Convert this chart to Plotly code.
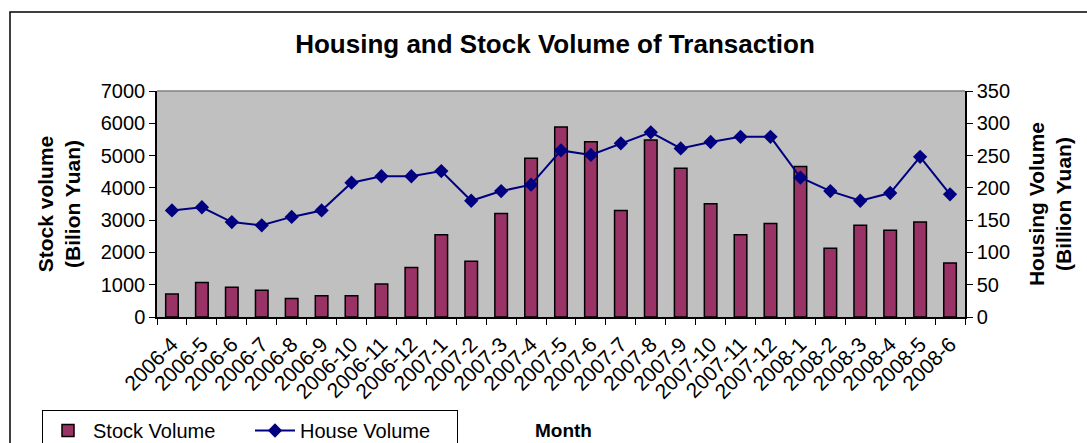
import plotly.graph_objects as go

months = ["2006-4", "2006-5", "2006-6", "2006-7", "2006-8", "2006-9", "2006-10", "2006-11",
          "2006-12", "2007-1", "2007-2", "2007-3", "2007-4", "2007-5", "2007-6", "2007-7",
          "2007-8", "2007-9", "2007-10", "2007-11", "2007-12", "2008-1", "2008-2", "2008-3",
          "2008-4", "2008-5", "2008-6"]
stock_volume = [710, 1070, 920, 825, 570, 660, 660, 1020, 1530, 2545, 1730, 3205, 4920, 5885,
                5430, 3300, 5480, 4610, 3505, 2545, 2895, 4665, 2130, 2845, 2690, 2945, 1675]
house_volume = [165, 170, 147, 142, 155, 165, 208, 218, 218, 226, 180, 195, 205, 258,
                251, 269, 286, 261, 271, 279, 279, 216, 195, 180, 192, 248, 190]
y1_ticks = [0, 1000, 2000, 3000, 4000, 5000, 6000, 7000]
y2_ticks = [0, 50, 100, 150, 200, 250, 300, 350]

FONT = "Arial, Liberation Sans, sans-serif"

fig = go.Figure()
fig.add_trace(go.Bar(
    x=months, y=stock_volume, name="Stock Volume",
    marker=dict(color="#993366", line=dict(color="#000000", width=1.5)),
))
fig.add_trace(go.Scatter(
    x=months, y=house_volume, name="House Volume", yaxis="y2",
    mode="lines+markers",
    line=dict(color="#000080", width=2),
    marker=dict(symbol="diamond", size=11, color="#000080"),
))

fig.update_layout(
    width=1087, height=443,
    margin=dict(l=157, r=122, t=91, b=126),
    paper_bgcolor="white",
    plot_bgcolor="#C0C0C0",
    font=dict(family=FONT, color="black", size=20),
    bargap=0.58,
    showlegend=True,
    title=dict(text="<b>Housing and Stock Volume of Transaction</b>",
               font=dict(family=FONT, size=26, color="black"),
               x=555 / 1087, xanchor="center", xref="container",
               y=1 - 44 / 443, yanchor="middle", yref="container"),
    xaxis=dict(
        type="category", range=[-0.5, len(months) - 0.5], tickangle=-45, tickfont=dict(size=21),
        showgrid=False, showline=True, linecolor="black", linewidth=1.5,
        ticks="outside", ticklen=6, tickcolor="black", tickson="boundaries",
        ticklabelstandoff=5, zeroline=False, automargin=False,
    ),
    yaxis=dict(
        range=[0, 7000], tickvals=y1_ticks, showgrid=False, zeroline=False,
        showline=True, linecolor="black", linewidth=1.5,
        ticks="outside", ticklen=6, tickcolor="black",
        title=dict(text="<b>Stock volume<br>(Bilion Yuan)</b>", font=dict(size=21), standoff=14),
    ),
    yaxis2=dict(
        range=[0, 350], tickvals=y2_ticks, overlaying="y", side="right",
        showgrid=False, zeroline=False,
        showline=True, linecolor="black", linewidth=1.5,
        ticks="outside", ticklen=6, tickcolor="black",
        title=dict(text="<b>Housing Volume<br>(Billion Yuan)</b>", font=dict(size=21), standoff=20),
    ),
    legend=dict(
        orientation="h", xref="container", yref="container",
        x=42 / 1087, xanchor="left", y=1 - 410 / 443, yanchor="top",
        bordercolor="black", borderwidth=1, bgcolor="white",
        font=dict(size=20), itemwidth=40, entrywidth=152,
    ),
    annotations=[dict(
        text="<b>Month</b>", xref="paper", yref="paper",
        x=(563 - 157) / 808, y=(317 - 430) / 226, showarrow=False,
        xanchor="center", yanchor="middle", font=dict(size=19),
    )],
    shapes=[
        dict(type="line", xref="paper", yref="paper", x0=0, x1=1, y0=1, y1=1,
             line=dict(color="#808080", width=1.5)),
        dict(type="rect", xref="paper", yref="paper",
             x0=(10 - 157) / 808, x1=2, y0=(317 - 12) / 226, y1=-2,
             line=dict(color="black", width=1.5)),
    ],
)

fig.write_html("out.html", config={"displayModeBar": False},
               post_script="document.body.style.margin='0';document.body.style.overflow='hidden';")
